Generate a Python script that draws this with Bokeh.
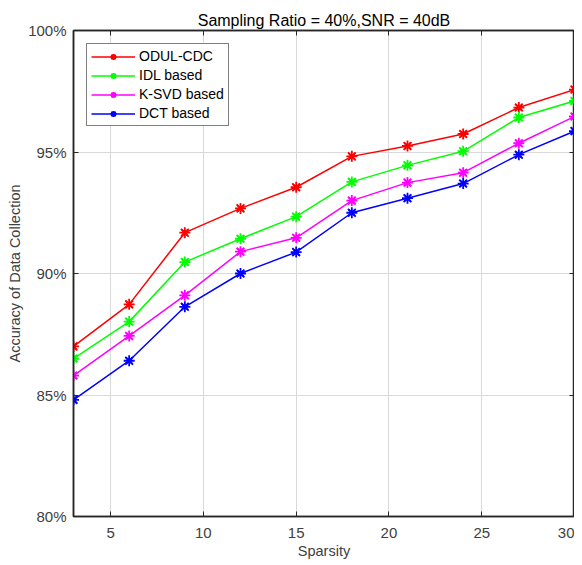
from bokeh.plotting import figure
from bokeh.models import LinearAxis, Range1d, FixedTicker, PrintfTickFormatter, Legend, LegendItem, CustomJSTickFormatter
from bokeh.embed import file_html
from bokeh.resources import INLINE

sparsity = [3, 6, 9, 12, 15, 18, 21, 24, 27, 30]
odul_cdc = [87.0, 88.73, 91.68, 92.68, 93.55, 94.82, 95.25, 95.74, 96.83, 97.57]
idl_based = [86.5, 88.02, 90.47, 91.43, 92.34, 93.77, 94.45, 95.03, 96.42, 97.10]
ksvd_based = [85.8, 87.43, 89.10, 90.90, 91.47, 93.00, 93.74, 94.15, 95.36, 96.46]
dct_based = [84.8, 86.41, 88.63, 90.00, 90.88, 92.50, 93.10, 93.70, 94.89, 95.86]
series_names = ["ODUL-CDC", "IDL based", "K-SVD based", "DCT based"]
series_colors = ["#ff0000", "#00ff00", "#ff00ff", "#0000ff"]
x_ticks = [5, 10, 15, 20, 25, 30]
y_ticks = [80, 85, 90, 95, 100]
x_label = "Sparsity"
y_label = "Accuracy of Data Collection"

FONT = "Liberation Sans"
TXT = "#404040"
AX = "#262626"

p = figure(width=574, height=565, output_backend="svg", toolbar_location=None,
           x_range=Range1d(3, 30), y_range=Range1d(80, 100),
           title="Sampling Ratio = 40%,SNR = 40dB",
           min_border_left=73, min_border_right=0, min_border_top=30, min_border_bottom=49)
p.title.align = "center"
p.title.text_font = FONT
p.title.text_font_size = "16px"
p.title.text_font_style = "normal"
p.title.text_color = "#000000"
p.title.offset = 0
p.title.standoff = 4

p.xaxis.axis_label = x_label
p.yaxis.axis_label = y_label
for ax in [p.xaxis[0], p.yaxis[0]]:
    ax.axis_label_text_font = FONT
    ax.axis_label_text_font_size = "14.5px"
    ax.axis_label_text_font_style = "normal"
    ax.axis_label_text_color = TXT
    ax.major_label_text_font = FONT
    ax.major_label_text_font_size = "15px"
    ax.major_label_text_color = TXT
    ax.axis_line_color = AX
    ax.axis_line_width = 1.5
    ax.major_tick_line_color = AX
    ax.major_tick_in = 5
    ax.major_tick_out = 0
    ax.minor_tick_line_color = None
p.xaxis.ticker = FixedTicker(ticks=x_ticks)
p.yaxis.ticker = FixedTicker(ticks=y_ticks)
p.yaxis.formatter = PrintfTickFormatter(format="%d%%")
p.xaxis.major_label_standoff = 11
p.xaxis.axis_label_standoff = 2
p.yaxis.major_label_standoff = 7
p.yaxis.axis_label_standoff = 2

for loc, tk in [("right", y_ticks), ("above", x_ticks)]:
    a = LinearAxis(ticker=FixedTicker(ticks=tk), formatter=CustomJSTickFormatter(code="return ''"),
                   axis_line_color=AX, axis_line_width=1.5, major_tick_line_color=AX,
                   major_tick_in=5, major_tick_out=0, minor_tick_line_color=None,
                   major_label_standoff=0)
    p.add_layout(a, loc)

p.xgrid.ticker = FixedTicker(ticks=x_ticks)
p.ygrid.ticker = FixedTicker(ticks=y_ticks)
p.grid.grid_line_color = "#d9d9d9"
p.grid.grid_line_width = 1
p.outline_line_color = AX
p.outline_line_width = 1.5

items = []
for name, col, ys in zip(series_names, series_colors, [odul_cdc, idl_based, ksvd_based, dct_based]):
    l = p.line(sparsity, ys, line_color=col, line_width=1.5)
    m1 = p.scatter(sparsity, ys, marker="asterisk", size=11, line_color=col, line_width=1.8)
    m2 = p.scatter(sparsity, ys, marker="x", size=9, line_color=col, line_width=1.8)
    items.append(LegendItem(label=name, renderers=[l, m1, m2]))

legend = Legend(items=items, location="top_left")
legend.label_text_font = FONT
legend.label_text_font_size = "14px"
legend.label_text_color = "#000000"
legend.border_line_color = "#000000"
legend.border_line_width = 1.2
legend.background_fill_alpha = 1
legend.glyph_width = 44
legend.glyph_height = 15
legend.label_height = 15
legend.spacing = 3
legend.padding = 4
legend.margin = 13
legend.label_standoff = 4
p.add_layout(legend)

open("out.html", "w").write(file_html(p, INLINE))
